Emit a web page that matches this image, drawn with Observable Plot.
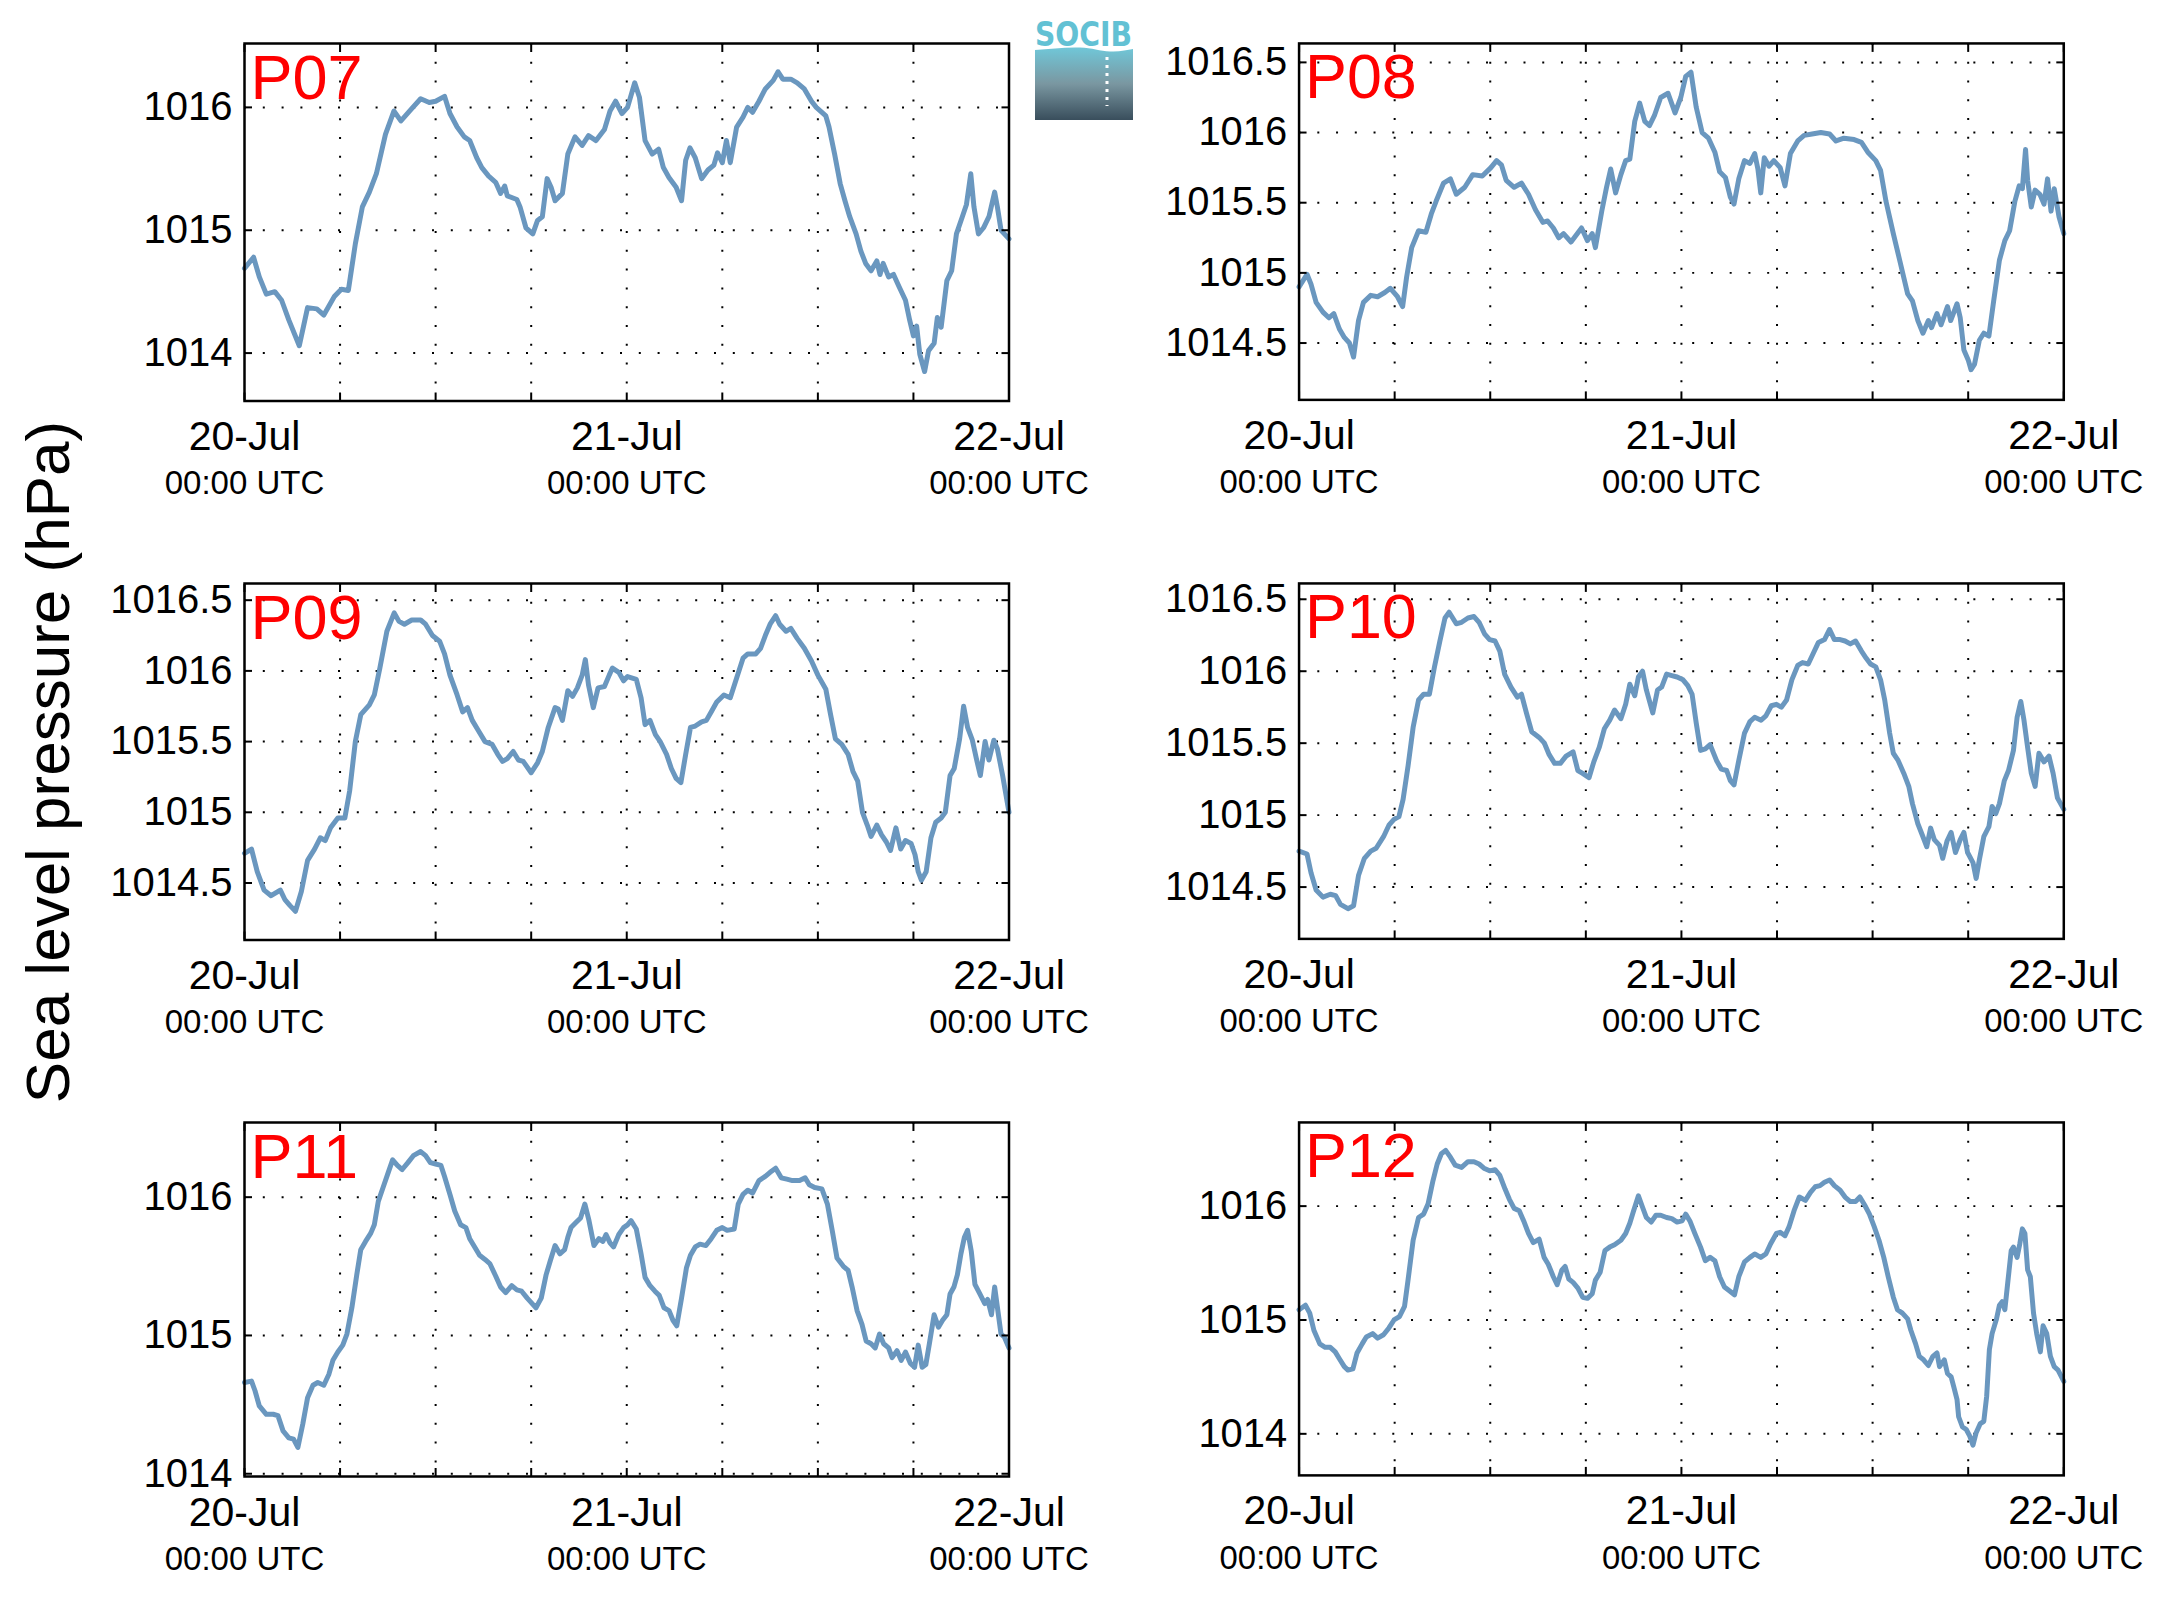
<!DOCTYPE html>
<html><head><meta charset="utf-8">
<script src="https://cdn.jsdelivr.net/npm/d3@7"></script>
<script src="https://cdn.jsdelivr.net/npm/@observablehq/plot@0.6"></script>
<style>
html,body{margin:0;padding:0;background:#fff;}
#root{position:relative;width:2163px;height:1608px;overflow:hidden;background:#fff;}
.panel{position:absolute;}
.panel svg{overflow:visible;background:transparent;}
#overlay{position:absolute;left:0;top:0;}
</style></head>
<body><div id="root"></div>
<script>
// ---------- DATA (hours since 20-Jul 00:00 UTC, hPa) ----------
const stations = ["P07", "P08", "P09", "P10", "P11", "P12"];
const dayLabels = [0, 24, 48];            // hours of labelled ticks
const gridHours = [6, 12, 18, 24, 30, 36, 42];
const tickHours = [0, 6, 12, 18, 24, 30, 36, 42, 48];

const P07 = [[0,1014.69],[0.57,1014.78],[0.93,1014.62],[1.37,1014.48],[1.9,1014.50],[2.33,1014.43],[2.78,1014.27],[3.44,1014.06],[3.96,1014.37],[4.54,1014.36],[4.98,1014.31],[5.64,1014.46],[6.08,1014.52],[6.52,1014.51],[6.96,1014.89],[7.4,1015.19],[7.84,1015.31],[8.28,1015.46],[8.85,1015.78],[9.38,1015.97],[9.82,1015.89],[10.5,1015.99],[11.06,1016.07],[11.6,1016.04],[12.0,1016.05],[12.56,1016.09],[12.9,1015.95],[13.35,1015.84],[13.8,1015.76],[14.14,1015.73],[14.58,1015.59],[14.9,1015.51],[15.33,1015.44],[15.77,1015.39],[16.08,1015.30],[16.34,1015.36],[16.5,1015.28],[17.1,1015.25],[17.3,1015.19],[17.67,1015.02],[18.1,1014.97],[18.4,1015.08],[18.7,1015.11],[19.0,1015.42],[19.25,1015.35],[19.5,1015.24],[19.96,1015.30],[20.3,1015.62],[20.75,1015.76],[21.2,1015.69],[21.6,1015.77],[22.07,1015.73],[22.6,1015.82],[22.95,1015.97],[23.3,1016.05],[23.7,1015.95],[24.05,1016.0],[24.5,1016.20],[24.8,1016.08],[25.15,1015.73],[25.6,1015.62],[26.0,1015.66],[26.3,1015.51],[26.65,1015.43],[27.1,1015.35],[27.44,1015.24],[27.7,1015.57],[27.97,1015.67],[28.3,1015.59],[28.7,1015.42],[29.1,1015.49],[29.47,1015.53],[29.7,1015.63],[30.0,1015.55],[30.26,1015.73],[30.5,1015.55],[30.9,1015.84],[31.3,1015.92],[31.6,1016.0],[31.9,1015.96],[32.3,1016.05],[32.7,1016.15],[33.2,1016.22],[33.5,1016.29],[33.8,1016.23],[34.3,1016.23],[34.7,1016.20],[35.15,1016.15],[35.6,1016.05],[35.9,1016.0],[36.5,1015.93],[36.7,1015.84],[37.05,1015.62],[37.4,1015.38],[37.7,1015.24],[38.0,1015.11],[38.4,1014.97],[38.7,1014.83],[39.0,1014.73],[39.34,1014.67],[39.7,1014.75],[39.9,1014.64],[40.1,1014.73],[40.44,1014.62],[40.75,1014.64],[41.1,1014.54],[41.5,1014.43],[41.76,1014.27],[42.0,1014.14],[42.2,1014.22],[42.4,1013.99],[42.7,1013.85],[42.95,1014.02],[43.3,1014.08],[43.5,1014.29],[43.74,1014.21],[44.1,1014.59],[44.4,1014.67],[44.7,1014.97],[45.07,1015.11],[45.33,1015.21],[45.6,1015.46],[45.8,1015.19],[46.08,1014.97],[46.4,1015.02],[46.74,1015.11],[47.1,1015.31],[47.27,1015.19],[47.5,1015.0],[48,1014.93]];

const P08 = [[0,1014.90],[0.5,1014.99],[0.75,1014.92],[1.07,1014.79],[1.5,1014.72],[1.87,1014.68],[2.18,1014.71],[2.53,1014.60],[2.84,1014.54],[3.16,1014.50],[3.42,1014.40],[3.73,1014.66],[4.04,1014.79],[4.5,1014.84],[4.93,1014.83],[5.38,1014.86],[5.73,1014.89],[6.18,1014.83],[6.5,1014.76],[6.75,1014.97],[7.07,1015.18],[7.5,1015.30],[7.96,1015.29],[8.3,1015.42],[8.6,1015.51],[9.07,1015.64],[9.5,1015.67],[9.87,1015.56],[10.4,1015.61],[10.9,1015.70],[11.5,1015.69],[12.04,1015.75],[12.4,1015.80],[12.7,1015.77],[13.0,1015.66],[13.5,1015.61],[13.96,1015.64],[14.4,1015.56],[14.84,1015.45],[15.3,1015.36],[15.6,1015.37],[15.96,1015.32],[16.3,1015.25],[16.6,1015.28],[17.07,1015.22],[17.73,1015.32],[18.1,1015.23],[18.4,1015.28],[18.6,1015.18],[19.0,1015.44],[19.3,1015.61],[19.56,1015.74],[19.87,1015.57],[20.2,1015.70],[20.5,1015.80],[20.76,1015.81],[21.07,1016.08],[21.38,1016.21],[21.7,1016.08],[22.0,1016.05],[22.3,1016.12],[22.7,1016.25],[23.16,1016.28],[23.6,1016.14],[23.96,1016.25],[24.27,1016.40],[24.6,1016.43],[24.93,1016.18],[25.3,1016.0],[25.7,1015.96],[26.1,1015.86],[26.4,1015.72],[26.76,1015.68],[27.07,1015.54],[27.3,1015.49],[27.6,1015.67],[27.96,1015.80],[28.3,1015.78],[28.6,1015.85],[28.8,1015.74],[28.98,1015.57],[29.2,1015.82],[29.5,1015.76],[29.8,1015.80],[30.2,1015.75],[30.5,1015.62],[30.84,1015.85],[31.3,1015.94],[31.7,1015.98],[32.2,1015.99],[32.75,1016.0],[33.3,1015.99],[33.7,1015.94],[34.2,1015.96],[34.84,1015.95],[35.3,1015.93],[35.7,1015.86],[36.2,1015.80],[36.5,1015.73],[36.84,1015.51],[37.3,1015.28],[37.7,1015.09],[38.2,1014.85],[38.5,1014.80],[38.84,1014.66],[39.16,1014.57],[39.5,1014.66],[39.7,1014.61],[40.04,1014.71],[40.3,1014.63],[40.7,1014.76],[40.9,1014.66],[41.3,1014.78],[41.5,1014.68],[41.73,1014.45],[42.0,1014.38],[42.18,1014.31],[42.4,1014.35],[42.7,1014.52],[42.98,1014.57],[43.3,1014.55],[43.6,1014.80],[43.96,1015.09],[44.3,1015.23],[44.6,1015.30],[44.93,1015.51],[45.2,1015.62],[45.4,1015.60],[45.6,1015.88],[45.73,1015.66],[45.96,1015.47],[46.2,1015.59],[46.5,1015.56],[46.76,1015.49],[46.98,1015.67],[47.2,1015.44],[47.4,1015.60],[47.7,1015.40],[48,1015.28]];

const P09 = [[0,1014.71],[0.44,1014.74],[0.8,1014.58],[1.23,1014.45],[1.67,1014.41],[2.25,1014.45],[2.55,1014.38],[2.86,1014.34],[3.2,1014.30],[3.57,1014.44],[3.96,1014.66],[4.4,1014.74],[4.76,1014.82],[5.07,1014.80],[5.4,1014.89],[5.86,1014.96],[6.3,1014.96],[6.6,1015.15],[6.96,1015.50],[7.3,1015.69],[7.84,1015.76],[8.15,1015.83],[8.5,1016.02],[8.94,1016.28],[9.4,1016.41],[9.7,1016.35],[10.04,1016.33],[10.5,1016.36],[11.06,1016.36],[11.37,1016.33],[11.8,1016.25],[12.25,1016.21],[12.56,1016.12],[12.9,1015.97],[13.35,1015.83],[13.7,1015.71],[14.0,1015.74],[14.3,1015.65],[14.67,1015.58],[15.1,1015.50],[15.55,1015.48],[15.9,1015.41],[16.2,1015.36],[16.5,1015.38],[16.87,1015.43],[17.2,1015.37],[17.5,1015.36],[18.0,1015.28],[18.4,1015.35],[18.7,1015.43],[19.07,1015.60],[19.5,1015.74],[19.7,1015.73],[19.96,1015.65],[20.3,1015.86],[20.6,1015.82],[20.9,1015.88],[21.2,1015.97],[21.4,1016.08],[21.6,1015.90],[21.9,1015.74],[22.2,1015.88],[22.6,1015.89],[22.9,1015.97],[23.1,1016.02],[23.5,1015.99],[23.8,1015.93],[24.05,1015.96],[24.6,1015.94],[24.9,1015.81],[25.15,1015.62],[25.46,1015.65],[25.8,1015.55],[26.1,1015.50],[26.5,1015.41],[26.8,1015.31],[27.1,1015.24],[27.4,1015.21],[27.7,1015.41],[28.0,1015.60],[28.3,1015.61],[28.7,1015.64],[29.0,1015.65],[29.3,1015.71],[29.65,1015.78],[30.1,1015.83],[30.5,1015.81],[30.9,1015.95],[31.3,1016.09],[31.6,1016.12],[32.1,1016.12],[32.4,1016.16],[32.7,1016.25],[33.0,1016.33],[33.35,1016.39],[33.6,1016.33],[34.0,1016.28],[34.3,1016.30],[34.7,1016.23],[35.15,1016.16],[35.6,1016.07],[36.0,1015.97],[36.5,1015.87],[36.8,1015.69],[37.1,1015.52],[37.5,1015.48],[37.9,1015.41],[38.2,1015.29],[38.5,1015.22],[38.8,1015.0],[39.1,1014.91],[39.34,1014.83],[39.7,1014.91],[40.0,1014.84],[40.3,1014.79],[40.56,1014.73],[40.9,1014.89],[41.2,1014.74],[41.5,1014.80],[41.85,1014.78],[42.1,1014.70],[42.3,1014.58],[42.5,1014.52],[42.8,1014.58],[43.1,1014.82],[43.4,1014.93],[43.74,1014.96],[44.0,1015.0],[44.3,1015.26],[44.56,1015.31],[44.9,1015.52],[45.15,1015.75],[45.4,1015.60],[45.7,1015.51],[45.95,1015.38],[46.2,1015.26],[46.5,1015.50],[46.74,1015.37],[47.05,1015.51],[47.27,1015.45],[47.6,1015.26],[48,1015.0]];

const P10 = [[0,1014.75],[0.5,1014.73],[0.75,1014.60],[1.07,1014.48],[1.5,1014.43],[1.96,1014.45],[2.3,1014.44],[2.6,1014.38],[3.07,1014.35],[3.42,1014.37],[3.73,1014.58],[4.1,1014.70],[4.5,1014.75],[4.84,1014.77],[5.3,1014.85],[5.64,1014.93],[5.96,1014.97],[6.27,1014.99],[6.53,1015.11],[6.84,1015.34],[7.16,1015.61],[7.5,1015.80],[7.82,1015.84],[8.18,1015.84],[8.5,1016.03],[8.84,1016.21],[9.16,1016.37],[9.42,1016.41],[9.87,1016.33],[10.2,1016.34],[10.6,1016.37],[10.98,1016.38],[11.3,1016.34],[11.64,1016.26],[11.96,1016.22],[12.3,1016.21],[12.6,1016.14],[12.9,1015.98],[13.3,1015.89],[13.7,1015.82],[13.96,1015.84],[14.27,1015.71],[14.6,1015.58],[15.07,1015.54],[15.4,1015.50],[15.7,1015.42],[16.04,1015.36],[16.4,1015.36],[16.76,1015.41],[17.2,1015.44],[17.5,1015.31],[17.8,1015.29],[18.2,1015.26],[18.5,1015.37],[18.84,1015.47],[19.16,1015.60],[19.5,1015.66],[19.8,1015.73],[20.2,1015.67],[20.5,1015.77],[20.76,1015.91],[21.07,1015.83],[21.3,1015.96],[21.56,1016.0],[21.8,1015.87],[22.2,1015.71],[22.5,1015.87],[22.76,1015.89],[23.07,1015.98],[23.4,1015.97],[23.73,1015.96],[24.1,1015.94],[24.4,1015.90],[24.67,1015.84],[24.93,1015.64],[25.2,1015.45],[25.5,1015.46],[25.8,1015.49],[26.2,1015.38],[26.5,1015.32],[26.84,1015.31],[27.07,1015.24],[27.3,1015.21],[27.6,1015.38],[27.96,1015.57],[28.3,1015.65],[28.6,1015.68],[29.0,1015.66],[29.3,1015.69],[29.64,1015.76],[29.96,1015.77],[30.27,1015.75],[30.6,1015.80],[30.93,1015.94],[31.3,1016.04],[31.6,1016.06],[31.96,1016.05],[32.3,1016.13],[32.6,1016.20],[32.98,1016.22],[33.3,1016.29],[33.6,1016.22],[33.96,1016.22],[34.27,1016.21],[34.6,1016.19],[34.93,1016.21],[35.3,1016.14],[35.6,1016.09],[35.87,1016.05],[36.2,1016.03],[36.5,1015.94],[36.76,1015.80],[37.07,1015.57],[37.3,1015.43],[37.6,1015.38],[37.96,1015.29],[38.27,1015.20],[38.5,1015.08],[38.84,1014.94],[39.16,1014.85],[39.4,1014.78],[39.64,1014.91],[39.87,1014.83],[40.2,1014.79],[40.4,1014.70],[40.67,1014.82],[40.93,1014.88],[41.2,1014.74],[41.5,1014.83],[41.73,1014.88],[41.96,1014.74],[42.3,1014.67],[42.5,1014.56],[42.7,1014.69],[42.98,1014.85],[43.3,1014.92],[43.5,1015.06],[43.73,1015.01],[43.96,1015.08],[44.27,1015.24],[44.53,1015.31],[44.84,1015.45],[45.07,1015.68],[45.3,1015.79],[45.5,1015.66],[45.73,1015.47],[45.96,1015.29],[46.2,1015.20],[46.44,1015.43],[46.76,1015.37],[47.07,1015.41],[47.33,1015.29],[47.6,1015.12],[48,1015.04]];

const P11 = [[0,1014.66],[0.44,1014.67],[0.66,1014.60],[0.93,1014.49],[1.37,1014.43],[1.8,1014.43],[2.1,1014.42],[2.42,1014.31],[2.78,1014.26],[3.08,1014.25],[3.35,1014.19],[3.66,1014.36],[3.96,1014.55],[4.3,1014.64],[4.6,1014.66],[4.98,1014.64],[5.3,1014.72],[5.55,1014.82],[5.86,1014.88],[6.17,1014.93],[6.43,1015.01],[6.74,1015.20],[7.05,1015.44],[7.3,1015.62],[7.6,1015.68],[7.93,1015.74],[8.15,1015.80],[8.4,1015.97],[8.7,1016.07],[9.0,1016.17],[9.3,1016.27],[9.6,1016.23],[9.9,1016.20],[10.26,1016.25],[10.6,1016.30],[11.06,1016.33],[11.37,1016.30],[11.67,1016.25],[12.0,1016.24],[12.33,1016.23],[12.56,1016.15],[12.9,1016.02],[13.2,1015.90],[13.57,1015.80],[13.9,1015.78],[14.14,1015.70],[14.45,1015.64],[14.76,1015.58],[15.1,1015.55],[15.4,1015.52],[15.77,1015.43],[16.08,1015.35],[16.4,1015.31],[16.78,1015.36],[17.1,1015.33],[17.4,1015.32],[17.75,1015.27],[18.06,1015.23],[18.3,1015.20],[18.63,1015.27],[18.94,1015.44],[19.2,1015.54],[19.5,1015.65],[19.8,1015.59],[20.1,1015.62],[20.3,1015.71],[20.5,1015.78],[20.84,1015.82],[21.1,1015.85],[21.37,1015.95],[21.63,1015.83],[21.94,1015.65],[22.25,1015.70],[22.5,1015.68],[22.7,1015.73],[22.95,1015.67],[23.17,1015.64],[23.5,1015.73],[23.8,1015.78],[24.05,1015.80],[24.27,1015.83],[24.6,1015.77],[24.9,1015.59],[25.15,1015.42],[25.46,1015.36],[25.77,1015.32],[26.04,1015.29],[26.34,1015.20],[26.65,1015.18],[26.9,1015.11],[27.14,1015.07],[27.44,1015.27],[27.75,1015.49],[28.0,1015.58],[28.3,1015.64],[28.6,1015.66],[28.97,1015.65],[29.3,1015.70],[29.65,1015.76],[30.0,1015.78],[30.3,1015.76],[30.75,1015.77],[31.0,1015.95],[31.3,1016.02],[31.6,1016.05],[31.9,1016.03],[32.3,1016.12],[32.7,1016.15],[33.0,1016.18],[33.35,1016.21],[33.7,1016.14],[34.05,1016.13],[34.4,1016.12],[34.85,1016.12],[35.2,1016.14],[35.46,1016.09],[35.8,1016.07],[36.25,1016.06],[36.6,1015.95],[36.9,1015.76],[37.2,1015.56],[37.6,1015.50],[37.9,1015.47],[38.15,1015.35],[38.46,1015.18],[38.77,1015.08],[39.03,1014.96],[39.34,1014.94],[39.6,1014.91],[39.87,1015.01],[40.13,1014.94],[40.44,1014.91],[40.66,1014.84],[40.97,1014.89],[41.23,1014.82],[41.5,1014.88],[41.8,1014.80],[42.07,1014.77],[42.3,1014.93],[42.55,1014.77],[42.78,1014.79],[43.0,1014.94],[43.3,1015.15],[43.57,1015.06],[43.83,1015.11],[44.1,1015.15],[44.3,1015.30],[44.54,1015.35],[44.76,1015.44],[44.98,1015.59],[45.2,1015.71],[45.4,1015.76],[45.63,1015.61],[45.86,1015.37],[46.17,1015.30],[46.48,1015.23],[46.66,1015.26],[46.9,1015.15],[47.1,1015.35],[47.3,1015.18],[47.5,1015.01],[47.7,1014.99],[48,1014.91]];

const P12 = [[0,1015.09],[0.4,1015.13],[0.67,1015.06],[0.93,1014.91],[1.3,1014.79],[1.64,1014.76],[1.96,1014.76],[2.27,1014.72],[2.53,1014.66],[2.84,1014.59],[3.07,1014.56],[3.38,1014.57],[3.64,1014.71],[3.96,1014.79],[4.22,1014.85],[4.62,1014.88],[4.93,1014.84],[5.3,1014.87],[5.64,1014.93],[5.96,1015.0],[6.3,1015.03],[6.62,1015.12],[6.84,1015.35],[7.16,1015.70],[7.5,1015.90],[7.82,1015.93],[8.1,1016.02],[8.4,1016.22],[8.67,1016.37],[8.93,1016.46],[9.2,1016.49],[9.5,1016.43],[9.8,1016.36],[10.2,1016.34],[10.6,1016.39],[10.98,1016.39],[11.3,1016.37],[11.64,1016.33],[11.96,1016.31],[12.3,1016.32],[12.6,1016.27],[12.93,1016.15],[13.2,1016.06],[13.5,1015.98],[13.82,1015.96],[14.1,1015.87],[14.4,1015.76],[14.7,1015.68],[15.07,1015.71],[15.38,1015.55],[15.64,1015.49],[15.96,1015.38],[16.2,1015.31],[16.5,1015.44],[16.7,1015.47],[16.93,1015.36],[17.2,1015.33],[17.5,1015.28],[17.8,1015.20],[18.1,1015.19],[18.4,1015.23],[18.6,1015.35],[18.9,1015.42],[19.2,1015.61],[19.5,1015.64],[19.8,1015.66],[20.2,1015.70],[20.5,1015.76],[20.76,1015.85],[21.0,1015.96],[21.3,1016.09],[21.56,1015.99],[21.8,1015.90],[22.1,1015.86],[22.4,1015.92],[22.7,1015.92],[23.07,1015.90],[23.4,1015.89],[23.73,1015.86],[24.04,1015.87],[24.27,1015.93],[24.53,1015.87],[24.84,1015.76],[25.2,1015.64],[25.5,1015.52],[25.8,1015.55],[26.1,1015.52],[26.4,1015.38],[26.7,1015.29],[27.07,1015.25],[27.33,1015.22],[27.6,1015.38],[27.96,1015.51],[28.3,1015.55],[28.6,1015.58],[28.98,1015.55],[29.3,1015.58],[29.6,1015.67],[29.96,1015.76],[30.2,1015.77],[30.5,1015.74],[30.76,1015.82],[31.07,1015.96],[31.4,1016.08],[31.78,1016.05],[32.1,1016.12],[32.4,1016.17],[32.7,1016.18],[32.98,1016.21],[33.3,1016.23],[33.6,1016.18],[33.96,1016.14],[34.27,1016.08],[34.6,1016.04],[34.93,1016.04],[35.2,1016.08],[35.5,1016.01],[35.8,1015.93],[36.1,1015.82],[36.4,1015.70],[36.7,1015.55],[36.98,1015.38],[37.3,1015.20],[37.56,1015.09],[37.87,1015.06],[38.2,1015.01],[38.4,1014.91],[38.7,1014.79],[38.93,1014.68],[39.2,1014.65],[39.5,1014.60],[39.78,1014.68],[40.04,1014.71],[40.2,1014.59],[40.5,1014.65],[40.7,1014.53],[40.93,1014.50],[41.1,1014.41],[41.3,1014.30],[41.4,1014.15],[41.64,1014.06],[41.87,1014.04],[42.1,1013.98],[42.3,1013.90],[42.5,1014.01],[42.76,1014.09],[42.98,1014.11],[43.16,1014.33],[43.33,1014.74],[43.5,1014.88],[43.78,1015.01],[43.96,1015.13],[44.13,1015.16],[44.3,1015.09],[44.5,1015.35],[44.7,1015.61],[44.84,1015.64],[45.07,1015.55],[45.24,1015.67],[45.4,1015.80],[45.56,1015.76],[45.73,1015.44],[45.9,1015.38],[46.1,1015.06],[46.3,1014.88],[46.53,1014.72],[46.7,1014.95],[46.93,1014.88],[47.16,1014.68],[47.4,1014.59],[47.64,1014.56],[48,1014.46]];

const series = {P07, P08, P09, P10, P11, P12};

const yTicks = {
  P07: [1014, 1015, 1016],
  P08: [1014.5, 1015, 1015.5, 1016, 1016.5],
  P09: [1014.5, 1015, 1015.5, 1016, 1016.5],
  P10: [1014.5, 1015, 1015.5, 1016, 1016.5],
  P11: [1014, 1015, 1016],
  P12: [1014, 1015, 1016]
};
const yDomains = {
  P07: [1013.61, 1016.52],
  P08: [1014.095, 1016.635],
  P09: [1014.097, 1016.618],
  P10: [1014.14, 1016.61],
  P11: [1013.98, 1016.54],
  P12: [1013.635, 1016.735]
};
const yLabel = "Sea level pressure (hPa)";
const dateLabelSub = "00:00 UTC";

// ---------- LAYOUT ----------
const colLeft = [243.5, 1299];
const colWidth = [764.5, 767];
const rowTop = [42.5, 582.5, 1121.7];
const rowHeight = [357.5, 356.5, 354];
const M = {left: 150, right: 100, top: 20, bottom: 110};
const lineColor = "#6a97bf";
const font = "'Liberation Sans', Arial, Helvetica, sans-serif";

const t0 = Date.UTC(2013, 6, 20);
const toDate = h => new Date(t0 + h * 3600e3);
const blank = () => "";

const root = document.getElementById("root");

stations.forEach((name, i) => {
  const col = i % 2, row = Math.floor(i / 2);
  const fw = colWidth[col], fh = rowHeight[row];
  const data = series[name].map(([h, v]) => ({date: toDate(h), value: v}));
  const yt = yTicks[name];
  const dotted = {stroke: "#000", strokeOpacity: 1, strokeWidth: 2, strokeDasharray: "2,16.8"};
  const tickOpts = {tickSize: -8, strokeWidth: 2, tickFormat: blank, label: null};
  const chart = Plot.plot({
    width: M.left + fw + M.right,
    height: M.top + fh + M.bottom,
    marginLeft: M.left, marginRight: M.right, marginTop: M.top, marginBottom: M.bottom,
    style: {fontFamily: font, background: "transparent", overflow: "visible", color: "#000"},
    x: {type: "utc", domain: [toDate(0), toDate(48)]},
    y: {domain: yDomains[name]},
    marks: [
      Plot.gridY(yt, dotted),
      Plot.gridX(gridHours.map(toDate), dotted),
      Plot.line(data, {x: "date", y: "value", stroke: lineColor, strokeWidth: 5, strokeLinejoin: "round"}),
      Plot.axisX(tickHours.map(toDate), {anchor: "bottom", ...tickOpts}),
      Plot.axisX(tickHours.map(toDate), {anchor: "top", ...tickOpts}),
      Plot.axisY(yt, {anchor: "left", ...tickOpts}),
      Plot.axisY(yt, {anchor: "right", ...tickOpts}),
      Plot.frame({stroke: "#000", strokeWidth: 2.5}),
      Plot.axisX(dayLabels.map(toDate), {anchor: "bottom", tickSize: 0, tickPadding: 20, fontSize: 41,
        tickFormat: d3.utcFormat("%d-%b"), label: null}),
      Plot.axisX(dayLabels.map(toDate), {anchor: "bottom", tickSize: 0, tickPadding: 70, fontSize: 33,
        tickFormat: () => dateLabelSub, label: null}),
      Plot.axisY(yt, {anchor: "left", tickSize: 0, tickPadding: 12, fontSize: 40,
        tickFormat: d => String(d), label: null}),
      Plot.text([name], {frameAnchor: "top-left", dx: 6, dy: 55, lineAnchor: "bottom",
        textAnchor: "start", fill: "#ff0000", fontSize: 63, text: d => d})
    ]
  });
  const div = document.createElement("div");
  div.className = "panel";
  div.style.left = (colLeft[col] - M.left) + "px";
  div.style.top = (rowTop[row] - M.top) + "px";
  div.appendChild(chart);
  root.appendChild(div);
});

// ---------- overlay: y label + logo ----------
const ns = "http://www.w3.org/2000/svg";
const ov = document.createElementNS(ns, "svg");
ov.setAttribute("id", "overlay");
ov.setAttribute("width", 2163);
ov.setAttribute("height", 1608);
ov.innerHTML = `
  <defs>
    <linearGradient id="lg" x1="0" y1="0" x2="0" y2="1">
      <stop offset="0" stop-color="#70c7d8"/>
      <stop offset="0.5" stop-color="#7a97a1"/>
      <stop offset="1" stop-color="#394e5c"/>
    </linearGradient>
  </defs>
  <text transform="translate(69,762) rotate(-90)" text-anchor="middle"
        font-family="${font}" font-size="62" fill="#000">${yLabel}</text>
  <text x="1035" y="46" font-family="'DejaVu Sans', sans-serif" font-weight="bold" font-size="34" fill="#62c1d4"
        textLength="97" lengthAdjust="spacingAndGlyphs">SOCIB</text>
  <path d="M1035,50 C1050,49 1065,47 1080,47.5 C1092,48 1100,51 1110,51.5 C1120,52 1127,50 1133,49 L1133,120 L1035,120 Z" fill="url(#lg)"/>
  <line x1="1107" y1="57" x2="1107" y2="106" stroke="#fff" stroke-width="3" stroke-dasharray="3,5"/>
`;
root.appendChild(ov);
</script>
</body></html>
